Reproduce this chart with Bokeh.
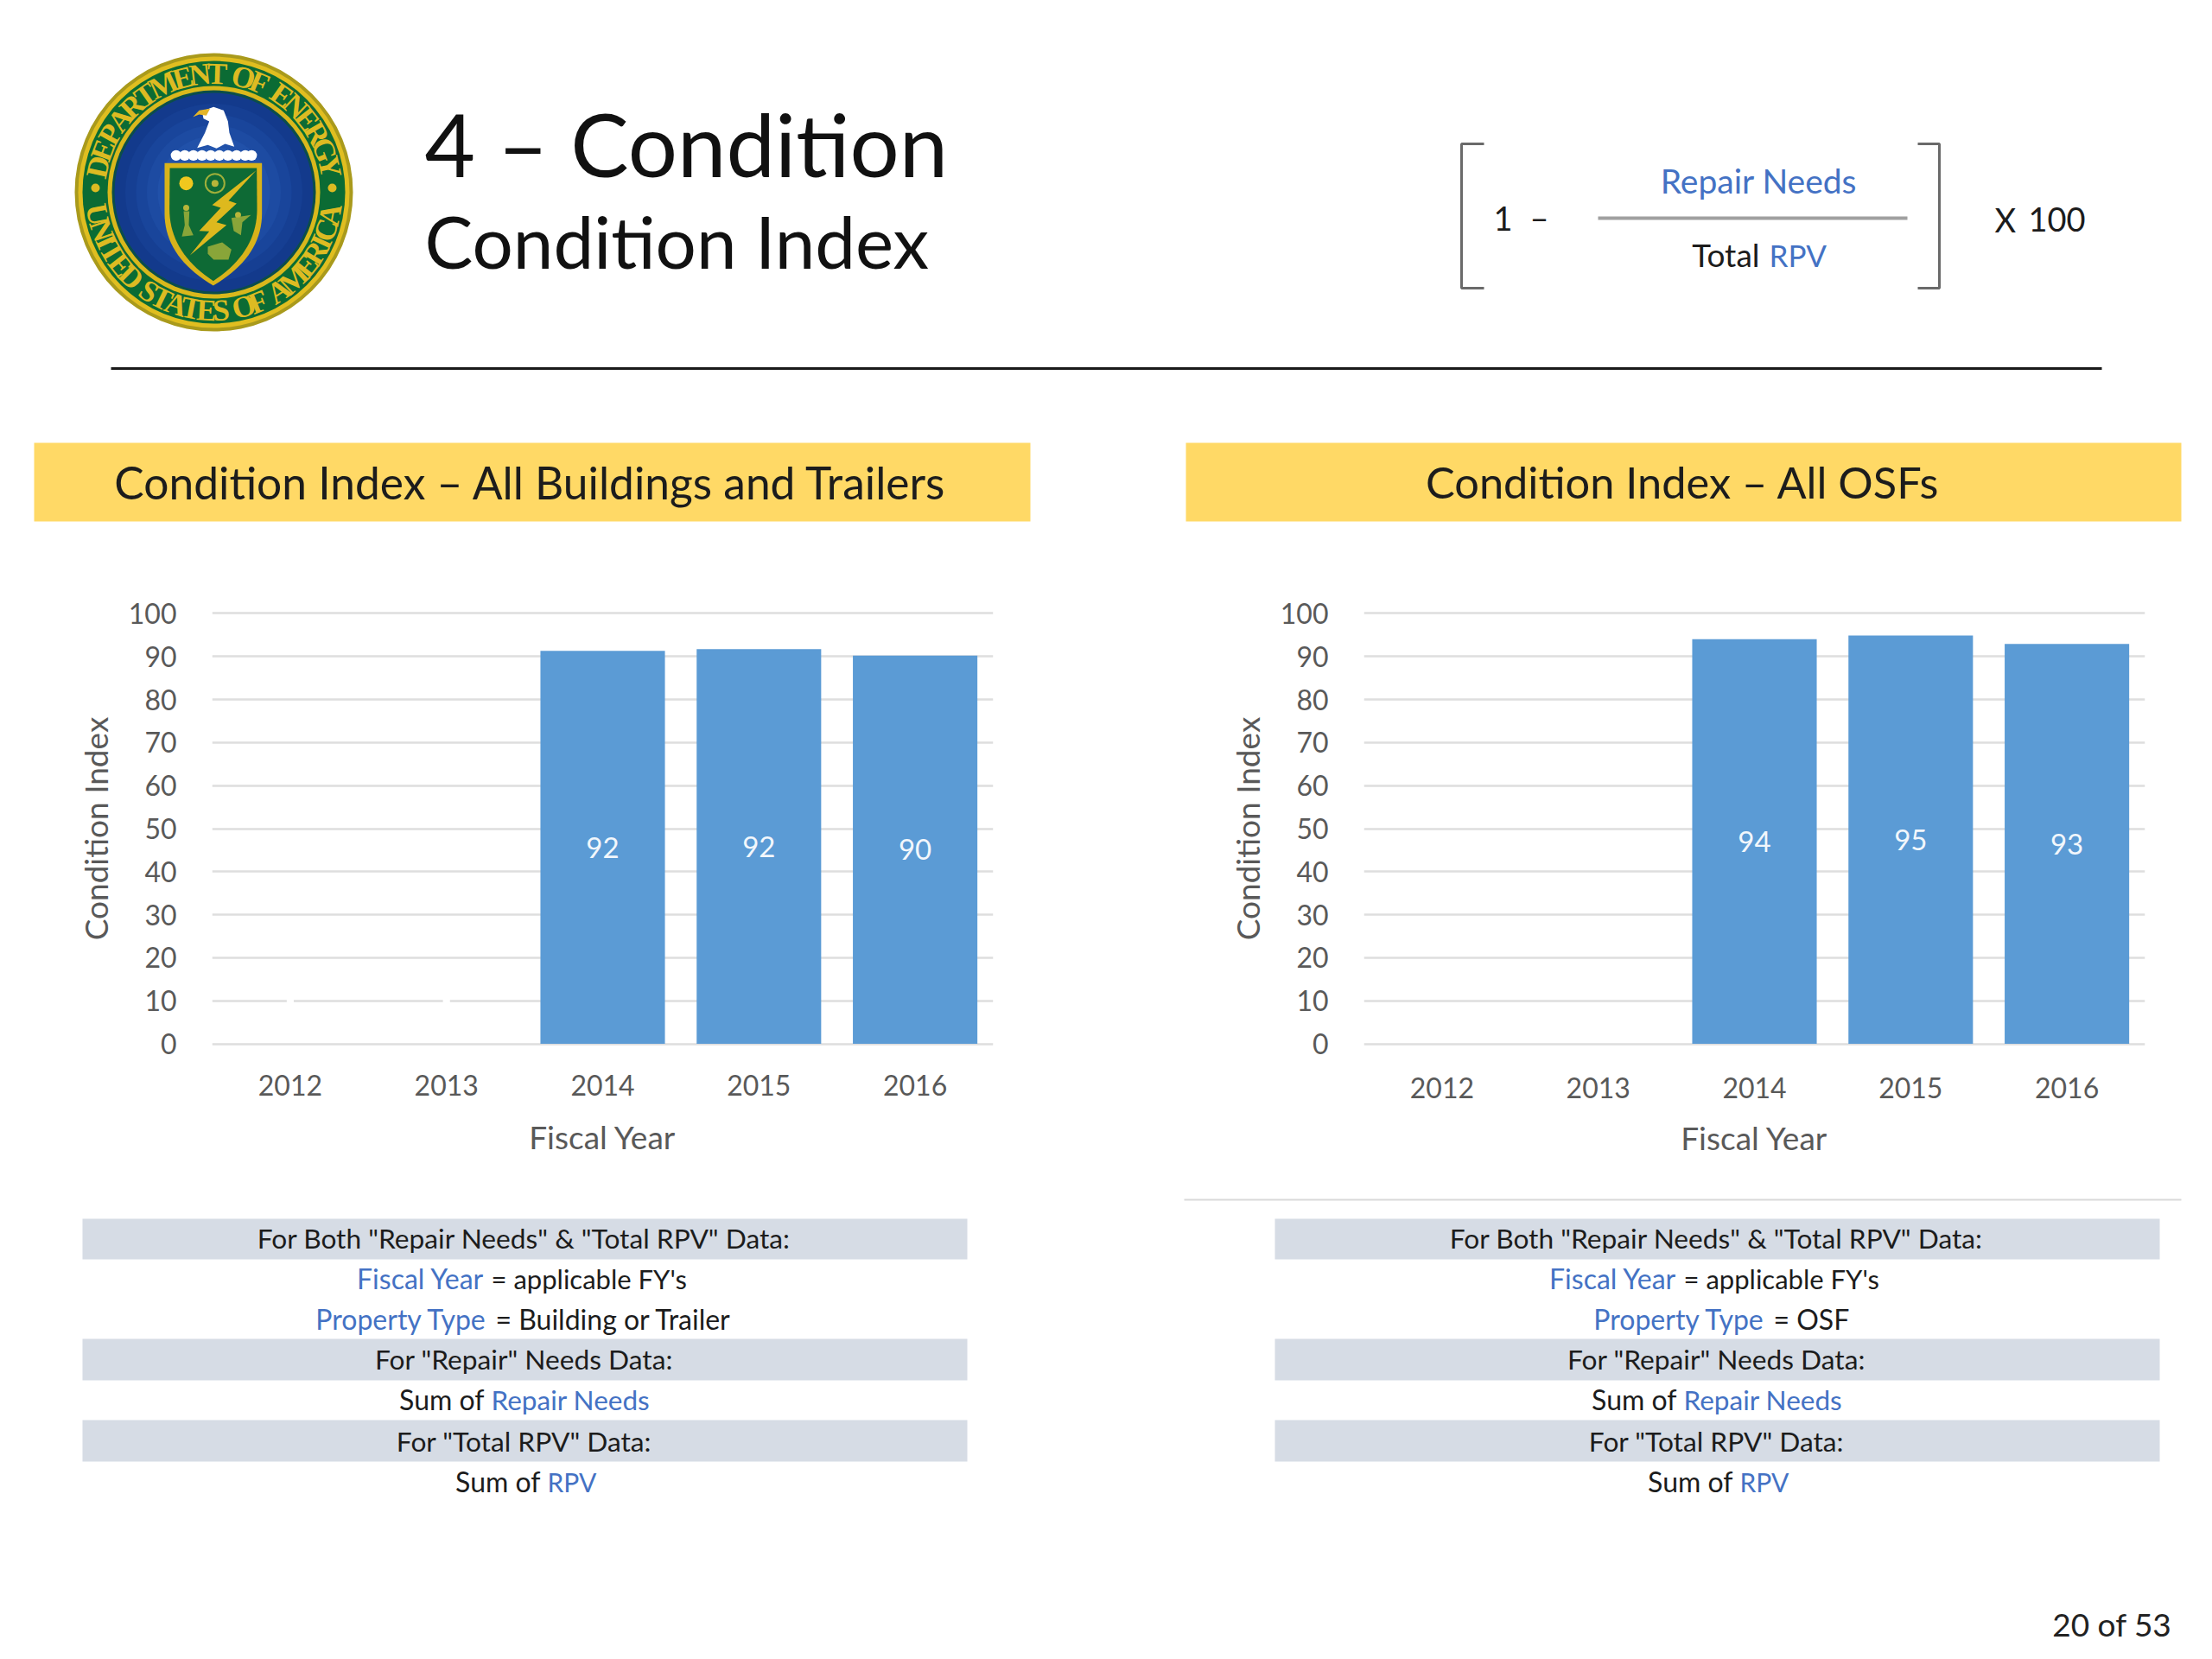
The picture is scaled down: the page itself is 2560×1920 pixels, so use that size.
import numpy as np
from bokeh.plotting import figure
from bokeh.layouts import column, row
from bokeh.models import Range1d, FactorRange, FixedTicker
from bokeh.core.properties import value
from bokeh.embed import file_html
from bokeh.resources import INLINE

years = ["2012", "2013", "2014", "2015", "2016"]
buildings_values = [None, None, 91.3, 91.7, 90.2]
buildings_labels = ["", "", "92", "92", "90"]
osf_values = [None, None, 94.0, 94.9, 92.9]
osf_labels = ["", "", "94", "95", "93"]
y_ticks = list(range(0, 101, 10))

FONT = "Lato"
BLACK = "#1c1c1c"
BLUE = "#4472C4"
GREY = "#595959"


def canvas(y0, y1, width=2552):
    p = figure(width=width, height=y1 - y0, x_range=Range1d(0, width), y_range=Range1d(y1, y0),
               x_axis_type=None, y_axis_type=None, toolbar_location=None, output_backend="svg",
               min_border=0, outline_line_color=None, background_fill_color="white")
    p.grid.visible = False
    return p


def txt(p, x, y, s, size, color=BLACK, align="center", font=FONT):
    p.text(x=[x], y=[y], text=[s], text_font=value(font), text_font_size=f"{size}px",
           text_color=color, text_align=align, text_baseline="middle")


def z(pts):
    return [60 + a / 3 for a, _ in pts], [40 + b / 3 for _, b in pts]


def arc_letters(p, word, start, stop, radius, cx, cy, top):
    weights = {"I": 0.55, " ": 0.5, "M": 1.35, "T": 0.95, "E": 0.95, "F": 0.9, "S": 0.85}
    w = np.array([weights.get(c, 1.0) for c in word])
    edges = np.concatenate([[0], np.cumsum(w)]) / w.sum()
    mids = (edges[:-1] + edges[1:]) / 2
    th = np.radians(start + (stop - start) * mids)
    xs = cx + radius * np.cos(th)
    ys = cy - radius * np.sin(th)
    ang = th - np.pi / 2 if top else th + np.pi / 2
    p.text(x=list(xs), y=list(ys), text=list(word), angle=list(ang), text_font=value("Liberation Serif"),
           text_font_style="bold", text_font_size="35px", text_color="#DDBB22",
           text_align="center", text_baseline="middle")


def seal(p):
    cx, cy = 247, 222
    p.circle(x=[cx], y=[cy], radius=161, fill_color="#A99A1C", line_color=None)
    p.circle(x=[cx], y=[cy], radius=157, fill_color="#E0BE20", line_color=None)
    p.circle(x=[cx], y=[cy], radius=152, fill_color="#0B6B34", line_color=None)
    p.circle(x=[cx], y=[cy], radius=123, fill_color="#D9B81C", line_color=None)
    p.circle(x=[cx], y=[cy], radius=118, fill_color="#0B4E4A", line_color=None)
    shades = ["#133A8C", "#163F93", "#19459B", "#1D4BA2", "#2151A9", "#2557AF", "#295DB4"]
    for r, c in zip(np.linspace(115, 40, 7), shades):
        p.circle(x=[cx], y=[cy], radius=float(r), fill_color=c, line_color=None)
    arc_letters(p, "DEPARTMENT OF ENERGY", 172, 8, 137, cx, cy, True)
    arc_letters(p, "UNITED STATES OF AMERICA", 187, 353, 137, cx, cy, False)
    p.circle(x=[cx - 137, cx + 137], y=[cy - 5, cy - 5], radius=5, fill_color="#DDBB22", line_color=None)

    # eagle
    head = [(520, 265), (560, 250), (595, 262), (610, 300), (615, 340), (632, 388), (600, 378),
            (570, 394), (540, 382), (503, 392), (530, 340), (545, 300), (525, 290)]
    x, y = z(head)
    p.patch(x, y, fill_color="white", line_color=None)
    x, y = z([(488, 285), (510, 262), (548, 256), (535, 280), (510, 276)])
    p.patch(x, y, fill_color="#E3B52A", line_color=None)
    cloud = np.array([430, 460, 490, 520, 550, 580, 610, 640, 670, 692])
    x, y = z([(c, 418) for c in cloud])
    p.circle(x=x, y=y, radius=6.2, fill_color="white", line_color=None)

    # shield
    t = np.linspace(0, 1, 20)
    def side(x0):
        ctrl = (x0, 770)
        start, tip = (x0, 620), (559, 870)
        return [((1 - s) ** 2 * start[0] + 2 * s * (1 - s) * ctrl[0] + s ** 2 * tip[0],
                 (1 - s) ** 2 * start[1] + 2 * s * (1 - s) * ctrl[1] + s ** 2 * tip[1]) for s in t]
    outer = [(390, 445), (728, 445)] + side(728) + side(390)[::-1]
    x, y = z(outer)
    p.patch(x, y, fill_color="#D8B31A", line_color=None)
    inner = [(408, 462), (710, 462)] + [(559 + (a - 559) * 0.9, b - 16) for a, b in side(728)] + \
            [(559 + (a - 559) * 0.9, b - 16) for a, b in side(390)[::-1]]
    x, y = z(inner)
    p.patch(x, y, fill_color="#0E6A35", line_color=None)
    x, y = z([(708, 470), (555, 590), (585, 600), (510, 680), (545, 682), (478, 765), (605, 660),
              (570, 650), (640, 585), (612, 575)])
    p.patch(x, y, fill_color="#DDB91E", line_color=None)
    x, y = z([(465, 515)])
    p.circle(x=x, y=y, radius=8, fill_color="#F0C81E", line_color=None)
    x, y = z([(565, 515)])
    p.circle(x=x, y=y, radius=11, fill_color=None, line_color="#9FAF3A", line_width=2)
    p.circle(x=x, y=y, radius=4, fill_color="#B7B53A", line_color=None)
    x, y = z([(465, 600), (645, 625)])
    p.circle(x=x, y=y, radius=3.5, fill_color="#B7B53A", line_color=None)
    for pts in ([(456, 612), (476, 612), (474, 660), (490, 695), (450, 700), (460, 660)],
                [(622, 635), (690, 625), (660, 650), (655, 695), (630, 680)],
                [(540, 735), (590, 720), (622, 745), (612, 780), (560, 780), (540, 760)]):
        x, y = z(pts)
        p.patch(x, y, fill_color="#9FAF3A", line_color=None, fill_alpha=0.85)


def header():
    p = canvas(0, 680)
    seal(p)
    txt(p, 491, 165, "4 \u2013 Condition", 101, "#111111", "left")
    txt(p, 491, 278, "Condition Index", 83.5, "#111111", "left")
    # formula
    p.multi_line(xs=[[1717, 1691, 1691, 1717], [2219, 2244, 2244, 2219]],
                 ys=[[166, 166, 333, 333], [166, 166, 333, 333]], line_color="#6a6a6a", line_width=3)
    p.line([1849, 2207], [252, 252], line_color="#a0a0a0", line_width=4)
    txt(p, 1739, 252, "1", 38)
    txt(p, 1781, 250, "\u2013", 38)
    txt(p, 2035, 208, "Repair Needs", 39, BLUE)
    txt(p, 2036, 294, "Total", 37, BLACK, "right")
    txt(p, 2047, 294, "RPV", 35, BLUE, "left")
    txt(p, 2308, 253, "X", 38, BLACK, "left")
    txt(p, 2413, 253, "100", 38, BLACK, "right")
    p.line([128, 2432], [426, 426], line_color="#1a1a1a", line_width=3)
    # banners
    p.quad(left=[39, 1372], right=[1192, 2524], top=[512, 512], bottom=[603, 603],
           fill_color="#FFD966", line_color=None)
    txt(p, 614, 557, "Condition Index \u2013 All Buildings and Trailers", 51.5)
    txt(p, 1947, 557, "Condition Index \u2013 All OSFs", 50.5)
    return p


def chart(vals, labels, width, left, right, top, bottom, tick_off, label_off, gaps):
    # The range runs half a unit past 0 and 100 so that both end gridlines are drawn.
    p = figure(width=width, height=690, x_range=FactorRange(factors=years, range_padding=0),
               y_range=Range1d(-0.5, 100.5), toolbar_location=None, output_backend="svg",
               min_border_left=left, min_border_right=right, min_border_top=top, min_border_bottom=bottom,
               outline_line_color=None, background_fill_color="white")
    p.xgrid.visible = False
    p.ygrid.grid_line_color = "#DEDEDE"
    p.ygrid.grid_line_width = 2.5
    p.ygrid.ticker = FixedTicker(ticks=y_ticks)
    p.yaxis.ticker = FixedTicker(ticks=y_ticks)
    idx = [i for i, v in enumerate(vals) if v is not None]
    xs = [years[i] for i in idx]
    tops = [vals[i] for i in idx]
    if gaps:
        p.rect(x=years[:2], y=[10, 10], width=0.045, height=1.2, fill_color="white", line_color=None)
    p.vbar(x=xs, top=tops, bottom=0, width=0.797, fill_color="#5B9BD5", line_color=None)
    p.text(x=xs, y=[t / 2 for t in tops], text=[labels[i] for i in idx], text_font=value(FONT),
           text_font_size="33px", text_color="#F2F7FC", text_align="center", text_baseline="middle")
    for ax, name in ((p.xaxis[0], "Fiscal Year"), (p.yaxis[0], "Condition Index")):
        ax.axis_label = name
        ax.axis_label_text_font = FONT
        ax.axis_label_text_font_style = "normal"
        ax.axis_label_text_font_size = "37px"
        ax.axis_label_text_color = GREY
        ax.major_label_text_font = FONT
        ax.major_label_text_font_size = "32px"
        ax.major_label_text_color = GREY
        ax.axis_line_color = None
        ax.major_tick_line_color = None
        ax.minor_tick_line_color = None
        ax.major_tick_out = 0
        ax.major_tick_in = 0
    p.xaxis[0].major_label_standoff = tick_off
    p.xaxis[0].axis_label_standoff = label_off
    p.yaxis[0].major_label_standoff = 41
    p.yaxis[0].axis_label_standoff = 13
    return p


def tables():
    p = canvas(1370, 1912)
    p.line([1370, 2524], [1388, 1388], line_color="#D9D9D9", line_width=2)
    for off in (0, 1380):
        p.quad(left=[95 + off] * 3, right=[1119 + off] * 3, top=[1410, 1549, 1643], bottom=[1457, 1597, 1691],
               fill_color="#D6DCE5", line_color=None)
        c = 607 + off
        txt(p, c - 1, 1432, 'For Both "Repair Needs" & "Total RPV" Data:', 31.7)
        txt(p, c - 1, 1572, 'For "Repair" Needs Data:', 31.7)
        txt(p, c - 1, 1667, 'For "Total RPV" Data:', 31.7)
        txt(p, 560 + off, 1479, "Fiscal Year", 32, BLUE, "right")
        txt(p, 568 + off, 1479, "= applicable FY's", 31, BLACK, "left")
        txt(p, 560 + off, 1619, "Sum of", 32, BLACK, "right")
        txt(p, 568 + off, 1619, "Repair Needs", 31.5, BLUE, "left")
        txt(p, 625 + off, 1714, "Sum of", 32, BLACK, "right")
        txt(p, 633 + off, 1714, "RPV", 30, BLUE, "left")
    txt(p, 563, 1526, "Property Type", 32, BLUE, "right")
    txt(p, 573, 1526, "= Building or Trailer", 32, BLACK, "left")
    txt(p, 2042, 1526, "Property Type", 32, BLUE, "right")
    txt(p, 2052, 1526, "= OSF", 32, BLACK, "left")
    txt(p, 2513, 1879, "20 of 53", 37, "#222222", "right")
    return p


page = column(
    header(),
    row(chart(buildings_values, buildings_labels, 1280, 245, 131, 26, 160, 33, 22, True),
        chart(osf_values, osf_labels, 1272, 298, 70, 27, 159, 36, 20, False)),
    tables(),
)
open("out.html", "w").write(file_html(page, INLINE))
